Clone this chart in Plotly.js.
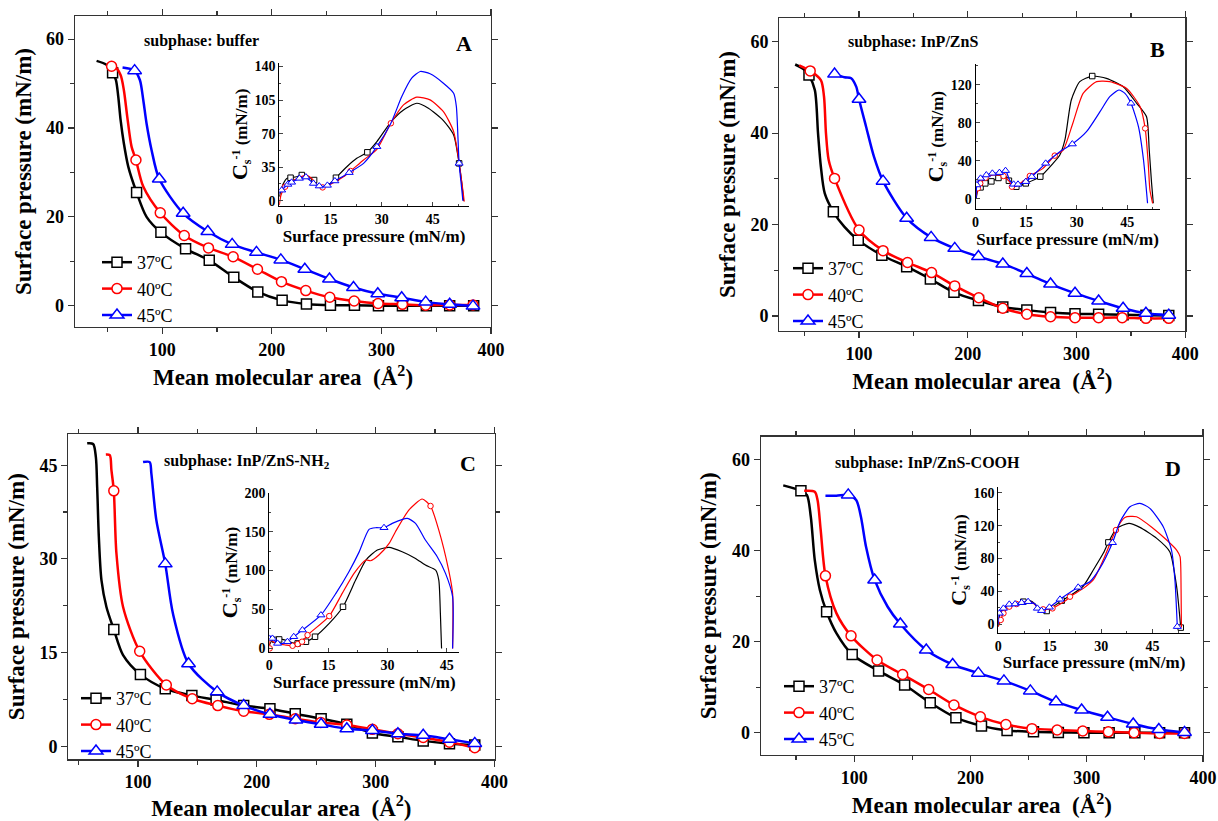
<!DOCTYPE html>
<html><head><meta charset="utf-8">
<script src="https://cdn.plot.ly/plotly-3.0.1.min.js"></script>
<style>html,body{margin:0;padding:0;background:#fff}#chart{width:1218px;height:821px}</style>
</head><body><div id="chart"></div>
<script>
// ===== Main isotherms: surface pressure (mN/m) vs mean molecular area (Å²) =====
// A: buffer
const A37_area=[40.1,49.2,57.7,59.9,62,65,69,85.7], A37_pi=[55.1,54.2,50.8,47,41.8,36.5,31.3,20];
const A37_mk_area=[54.7,76.6,98.8,121.3,142.9,165.3,187.2,209.4,231.6,253.5,275.4,297.3,319.2,341,362.3,384.2];
const A37_mk_pi=[52.4,25.5,16.5,12.8,10.2,6.4,3.1,1.2,0.4,0.1,0.1,0,0,0,0,0];
const A40_area=[56.8,62,65,68.1,72,82.7], A40_pi=[53.8,51.9,48.5,42.5,35.8,26.8];
const A40_mk_area=[53.8,76,98.2,120.1,142.2,164.7,186.9,208.8,231,252.9,275.1,297,319.2,340.4,362.3,383.6];
const A40_mk_pi=[53.9,32.8,20.9,15.8,13,11,8.2,5.4,3.4,1.9,1.05,0.5,0.3,0.1,0.15,0.15];
const A45_area=[63.8,79.6,82.7,85.7,90.3], A45_pi=[53.6,50.8,46.3,41,35];
const A45_mk_area=[74.8,97.3,119.1,141.6,163.8,186,208.2,230.1,252.6,274.5,296.7,318.5,340.4,362.3,383.6];
const A45_mk_pi=[52.9,28.5,20.8,16.7,13.8,12,10.3,8.2,6,4.1,2.7,1.8,0.8,0.3,-0.1];
// B: InP/ZnS
const B37_area=[41.3,50.4,59.4,62.3,64.9,68.5,86.6], B37_pi=[55,53.8,49.4,40,32.7,26.8,19.5];
const B37_mk_area=[54,76.4,99.3,121,143.8,165.6,187.3,209.8,232.2,254.3,276.1,298.6,320.3,342.8,363.8,384.8];
const B37_mk_pi=[52.7,22.8,16.6,13.3,10.8,8.1,5.2,3.4,2,1.3,0.8,0.5,0.4,0.3,0.2,0.15];
const B40_area=[45,64.9,67.8,69.6,72.1], B40_pi=[54.8,51.6,48,40,34.1];
const B40_mk_area=[55.1,77.5,100,122.1,144.6,166.7,188,210.1,232.2,254.3,276.1,298.6,320.3,342,363.8,384.8];
const B40_mk_pi=[53.6,30.1,18.8,14.3,11.7,9.5,6.6,4,1.7,0.4,-0.15,-0.35,-0.35,-0.35,-0.5,-0.5];
const B45_area=[86.6,92.8,97.5,106.5,113.8], B45_pi=[52.2,52,50.1,41.4,34.8];
const B45_mk_area=[77.5,100,122.1,143.8,166.3,188,209.8,232.2,254.3,276.1,298.6,320.3,342.8,363.8,384.8];
const B45_mk_pi=[52.9,47.4,29.5,21.4,17.2,14.8,13,11.4,9.3,7,5,3.3,1.7,0.6,0.2];
// C: InP/ZnS-NH2
const C37_area=[57.2,62.2,64.5,65.6,67,69.2,73.4,87.4], C37_pi=[48.5,48.4,46.3,41.5,33.5,26.6,22.3,14.6];
const C37_mk_area=[79.6,102,122.9,145.3,165.7,188.9,211,232.3,254.1,275.7,297.2,318.7,340,362.1,383.4];
const C37_mk_pi=[18.7,11.5,9.2,8.1,7.4,6.5,6,5.2,4.4,3.5,2.1,1.5,0.85,0.4,0.2];
const C40_area=[72.9,76.2,77.6,81.8,87.4], C40_pi=[46.7,46.6,44.2,30.9,22.3];
const C40_mk_area=[79.6,101.4,123.8,145.6,167.1,188.9,210.5,232.3,253.8,275.7,297.2,318.7,340,362.1,383.4];
const C40_mk_pi=[40.9,15.2,9.8,7.6,6.5,5.6,5.1,4.4,3.8,3.4,2.7,2,1.4,0.65,-0.25];
const C45_area=[104.2,109.8,111.2,115.4,129.4], C45_pi=[45.5,45.5,43.7,36.2,21.2];
const C45_mk_area=[122.9,142.5,166.6,188.9,211,232.9,254.1,275.7,297.2,318.7,340,362.1,383.4];
const C45_mk_pi=[29.2,13.2,8.7,6.5,5.1,4.2,3.5,2.8,2.5,2,1.75,1.1,0.45];
// D: InP/ZnS-COOH
const D37_area=[39,59.3,62.7,66.1,70.5,84.7], D37_pi=[54.4,52.3,47.5,38,31.4,21.9];
const D37_mk_area=[54.2,76.3,98.3,121,143.4,165.4,187.5,209.5,231.5,254.2,275.6,297.6,319.3,341.4,362.7,384.1];
const D37_mk_pi=[53.2,26.6,17.2,13.6,10.5,6.6,3.3,1.5,0.5,0.2,0.07,0,0,0,0,0];
const D40_area=[57,66.1,68.5,71.2,84.7], D40_pi=[53.2,53,51.2,44.6,26.3];
const D40_mk_area=[75.3,97.3,119.7,141.7,164.1,185.8,208.5,230.5,252.9,274.6,296.6,318.6,340.7,362.7,384.1];
const D40_mk_pi=[34.5,21.3,16,12.8,9.5,6.1,3.5,1.8,0.9,0.6,0.37,0.2,0,-0.15,-0.15];
const D45_area=[75.3,84.7,101.7,105.8,110.2,128.8], D45_pi=[52.1,52.1,51.2,47.5,40.9,27.7];
const D45_mk_area=[94.9,117.6,139.7,162,184.7,206.8,228.8,251.5,273.6,295.6,317.9,340,362,384.1];
const D45_mk_pi=[52.3,33.6,23.9,18.2,15,13.1,11.4,9.2,6.8,5,3.4,1.9,0.7,0.07];

// ===== Insets: compression modulus Cs^-1 (mN/m) vs surface pressure (mN/m) =====
const iA37_pi=[0,0.5,1.2,2.2,5.1,8.2,11.4,12.9,14.9,19.8,22.7,28.6,32.8,36.4,40.3,43.7,48.1,51.1,53.5,54];
const iA37_cs=[4.2,11,18,23.3,25,25,15.3,14.6,18,35.5,44.2,61.6,82.5,94.7,101.7,96.5,83.6,68.6,18,0];
const iA37_mk_pi=[3.3,6.6,10.2,16.6,25.8,52.7], iA37_mk_cs=[24,26.8,21.6,24,50.5,39];
const iA40_pi=[0,0.5,3.3,5.3,7.8,9.5,11,14.9,18.8,24.7,28.6,36.4,40.3,44.2,48.1,51.1,53.8,54.2];
const iA40_cs=[-4.5,6,19.9,23.3,26.8,23.3,16.4,17,25,42.5,53.6,100,108,105.2,93,72.1,11.1,-1];
const iA40_mk_pi=[1.7,12.7,20.9,32.7], iA40_mk_cs=[14.6,13.9,31,80.8];
const iA45_pi=[0,1.7,12.9,24.7,32.7,35.9,38.8,41.3,44.2,48.1,51.1,51.9,53.5,53.8];
const iA45_cs=[7.7,14.6,15,39,80.8,108.7,127.8,134.8,132.4,122.6,112.2,98.2,11.1,0];
const iA45_mk_pi=[0.7,2.5,3.6,5.9,7.8,10,11.7,14.1,16.3,20.5,28.6,52.7];
const iA45_mk_cs=[11,17,19.2,23.3,24.7,18,15.3,16,20.6,29.3,56.4,39];

const iB37_pi=[0.2,0.7,9.1,23,25,26.5,28.4,30.9,38.8,43.8,47.8,50.7,51.5,52.2,52.7];
const iB37_cs=[0,9.1,23.2,37.2,46,61.8,103.9,123.2,126.7,117.9,100.4,86.3,51.2,16.1,-4.9];
const iB37_mk_pi=[1.5,2.9,4.7,6.8,9.9,12.1,14.9,19.2,34.6], iB37_mk_cs=[11.9,16.1,18.2,21.8,18.9,12.6,16.1,23.2,129.1];
const iB40_pi=[0.2,5.2,8.1,10.1,12.1,20,26,28.9,31.9,35.9,39.8,44.8,48.8,51.2,51.7,52.5];
const iB40_cs=[2.1,24.9,24.6,17.9,13.3,31.9,51.2,80,110.9,123.2,123.2,116.1,96.8,37.2,9.1,-4.9];
const iB40_mk_pi=[0.7,1.4,3,8.3,10.8,16.1,23.5,50.3], iB40_mk_cs=[10.9,16.1,22.1,23.9,12.6,23.9,45.3,74];
const iB45_pi=[0.2,10.1,25,32.9,36.9,39.8,42.5,44.3,48.3,49.8,51];
const iB45_cs=[0,19.6,49.5,70.5,91.6,107.4,114.4,110.9,75.8,40.7,-4.9];
const iB45_mk_pi=[0.4,1.5,3.2,5,7.1,8.9,11.3,12.6,14.9,16.7,20.8,28.7,46.1];
const iB45_mk_cs=[14.4,21.4,24.9,26.7,27.4,29.5,15.1,15.1,17.9,23.2,37.2,57.5,100.4];

const iC37_pi=[0,0.8,3.4,5.9,15.2,21.9,24.5,27.4,30.4,33.7,37.1,39.6,42.2,43,43.4,43.7];
const iC37_cs=[4.3,10.7,11.6,7.3,32.1,87.8,113.5,126.3,129.8,124.2,115.6,107,100.6,87.8,45,0];
const iC37_mk_pi=[1.5,2.5,7.2,9.3,11.6,18.7], iC37_mk_cs=[11,11.5,6.4,8.6,15,53.5];
const iC40_pi=[0,0.2,1.7,4.2,18.5,21.5,24.5,25.7,27.8,30.4,32,35.4,38.8,43,45.5,46.5,46.5];
const iC40_cs=[-2.1,10.7,6.4,4.3,70.7,96.4,113.5,112.6,119.9,134.9,149.9,177.7,191.9,152,100.6,70.7,0];
const iC40_mk_pi=[0.1,5.9,7.2,8.3,9.7,15.2,40.9], iC40_mk_cs=[0,3.4,5.6,8.6,17.1,41.5,182.9];
const iC45_pi=[0,3.4,16.9,20.2,22.8,25.3,27,31.2,35,37.1,39.6,42.6,44.7,46.5,46.5];
const iC45_cs=[17.1,6.4,70.7,98.5,124,152.9,155,160.6,167,160.6,139.2,117.8,96.4,66.4,0];
const iC45_mk_pi=[0.8,2.1,4.6,6.2,8.4,13.1,29.1], iC45_mk_cs=[12.8,6.4,8.6,15,23.6,42.8,155];

const iD37_pi=[0,0.5,1.9,4.4,9.2,10.7,12.1,16,22,24.8,27.7,30.6,34.5,38.1,41.3,46.2,50,52];
const iD37_cs=[-2.8,13.4,19.4,24.7,28.8,24.7,17.4,21.5,37.7,46.6,66,86.3,116.6,122.7,117.9,104.5,88.3,45.8];
const iD37_mk_pi=[7.3,14.1,18.5,32.1,53.2], iD37_mk_cs=[27.5,16.2,28.8,99.6,-4];
const iD40_pi=[0,9,10.2,12,19.9,24.8,27.7,30.6,36.9,40.3,45.2,49.1,52,53,53.3,53.4];
const iD40_cs=[-2.8,27.5,25.5,19.4,29.6,43.7,53.9,78.2,130,130.8,116.6,102.5,90.3,82.2,41.7,-4];
const iD40_mk_pi=[0.7,1.5,3.2,5.3,13.1,15.8,20.9,34.3], iD40_mk_cs=[5.3,13.4,21.5,24.7,18.2,19.4,33.6,114.6];
const iD45_pi=[0,10.7,26.7,29.6,35.5,38.4,41.3,44.2,48.1,50.5,51.5];
const iD45_cs=[-0.8,24.7,51.8,68,124.7,143,147,141,118.7,90.3,53.9];
const iD45_mk_pi=[0.3,1.5,3.2,4.9,6.8,8.7,11.4,12.6,14.9,18,23.3,33.3,52.2];
const iD45_mk_cs=[13.4,19.4,24.3,24.7,26.3,27.5,19.4,16.6,20.7,30.4,45,99.2,-2.8];

const temps=['37ºC','40ºC','45ºC'];
const subphases=['subphase: buffer','subphase: InP/ZnS','subphase: InP/ZnS-NH<sub>2</sub>','subphase: InP/ZnS-COOH'];
const panelLetters=['A','B','C','D'];

// ===== layout helpers =====
const W=1218,H=821;
const SERIF='Liberation Serif';
const COLORS=['#000000','#ff0000','#0000ff'];
const SYMBOLS=['square','circle','triangle-up'];
const hx=(a,b)=>[a/W,b/W];
const vy=(t,b)=>[1-b/H,1-t/H];

const D={
  A:{main:[[A37_area,A37_pi,A37_mk_area,A37_mk_pi],[A40_area,A40_pi,A40_mk_area,A40_mk_pi],[A45_area,A45_pi,A45_mk_area,A45_mk_pi]],
     ins:[[iA37_pi,iA37_cs,iA37_mk_pi,iA37_mk_cs],[iA40_pi,iA40_cs,iA40_mk_pi,iA40_mk_cs],[iA45_pi,iA45_cs,iA45_mk_pi,iA45_mk_cs]]},
  B:{main:[[B37_area,B37_pi,B37_mk_area,B37_mk_pi],[B40_area,B40_pi,B40_mk_area,B40_mk_pi],[B45_area,B45_pi,B45_mk_area,B45_mk_pi]],
     ins:[[iB37_pi,iB37_cs,iB37_mk_pi,iB37_mk_cs],[iB40_pi,iB40_cs,iB40_mk_pi,iB40_mk_cs],[iB45_pi,iB45_cs,iB45_mk_pi,iB45_mk_cs]]},
  C:{main:[[C37_area,C37_pi,C37_mk_area,C37_mk_pi],[C40_area,C40_pi,C40_mk_area,C40_mk_pi],[C45_area,C45_pi,C45_mk_area,C45_mk_pi]],
     ins:[[iC37_pi,iC37_cs,iC37_mk_pi,iC37_mk_cs],[iC40_pi,iC40_cs,iC40_mk_pi,iC40_mk_cs],[iC45_pi,iC45_cs,iC45_mk_pi,iC45_mk_cs]]},
  D:{main:[[D37_area,D37_pi,D37_mk_area,D37_mk_pi],[D40_area,D40_pi,D40_mk_area,D40_mk_pi],[D45_area,D45_pi,D45_mk_area,D45_mk_pi]],
     ins:[[iD37_pi,iD37_cs,iD37_mk_pi,iD37_mk_cs],[iD40_pi,iD40_cs,iD40_mk_pi,iD40_mk_cs],[iD45_pi,iD45_cs,iD45_mk_pi,iD45_mk_cs]]}
};

// geometry (pixels) of each panel
const G=[
 {main:{x:[75,491],y:[16,327],xr:[20.4,400],yr:[-4.8,65.2],dy:20},ins:{x:[279.3,469],y:[62.7,206],xr:[0,55.6],yr:[-5.5,144],dy:35},
  leg:[97,244],sub:[141.7,40.7],let:[464,43.3]},
 {main:{x:[779.3,1185.3],y:[18.3,330.7],xr:[26.7,400],yr:[-3.2,65.1],dy:20},ins:{x:[975.5,1159.7],y:[64,209.3],xr:[0,54.6],yr:[-11.2,141.8],dy:40},
  leg:[788,250],sub:[846.4,41.7],let:[1157,50]},
 {main:{x:[68.3,494.5],y:[434,759.3],xr:[41.3,400],yr:[-2.1,50],dy:15},ins:{x:[269.3,459.3],y:[492.7,652.3],xr:[0,48.2],yr:[-5,200],dy:50},
  leg:[76,680],sub:[162.3,461.7],let:[467.5,463.3]},
 {main:{x:[760.8,1203],y:[436.7,755],xr:[19.7,400],yr:[-4.9,65.1],dy:20},ins:{x:[998.3,1190],y:[487.3,632.7],xr:[0,55.9],yr:[-10.2,166.6],dy:40},
  leg:[779,668],sub:[832.6,463.3],let:[1172.5,468.3]}
];

function merge(lx,ly,mx,my){
  const pts=lx.map((x,i)=>({x:x,y:ly[i]}));
  mx.forEach((x,i)=>{let k=pts.findIndex(p=>p.x>x); if(k<0)k=pts.length; pts.splice(k,0,{x:x,y:my[i]});});
  return {x:pts.map(p=>p.x),y:pts.map(p=>p.y)};
}

const traces=[]; const layout={
  width:W,height:H,margin:{l:0,r:0,t:0,b:0},paper_bgcolor:'#fff',plot_bgcolor:'rgba(0,0,0,0)',
  showlegend:true,annotations:[],font:{family:SERIF,color:'#000'}
};

const tickFontMain={family:SERIF,size:18,weight:'bold',color:'#000'};
const tickFontIns={family:SERIF,size:14,weight:'bold',color:'#000'};

['A','B','C','D'].forEach((P,pi)=>{
  const g=G[pi]; const n=pi+1; const ni=pi+5;
  const xa='x'+n, ya='y'+n, xi='x'+ni, yi='y'+ni;
  const legName= n===1?'legend':'legend'+n;
  layout['xaxis'+n]={domain:hx(...g.main.x),range:g.main.xr,anchor:ya,showline:true,mirror:'ticks',linecolor:'#333',linewidth:1.3,
    ticks:'outside',ticklen:6,tickwidth:1.2,tickcolor:'#333',tick0:0,dtick:100,minor:{dtick:50,ticks:'outside',ticklen:4,tickcolor:'#333'},
    showgrid:false,zeroline:false,tickfont:tickFontMain,
    title:{text:'Mean molecular area\u00a0\u00a0(Å<sup>2</sup>)',font:{family:SERIF,size:23,weight:'bold',color:'#000'},standoff:10}};
  layout['yaxis'+n]={domain:vy(...g.main.y),range:g.main.yr,anchor:xa,showline:true,mirror:'ticks',linecolor:'#333',linewidth:1.3,
    ticks:'outside',ticklen:6,tickwidth:1.2,tickcolor:'#333',tick0:0,dtick:g.main.dy,minor:{dtick:g.main.dy/2,ticks:'outside',ticklen:4,tickcolor:'#333'},
    showgrid:false,zeroline:false,tickfont:tickFontMain,
    title:{text:'Surface pressure (mN/m)',font:{family:SERIF,size:23,weight:'bold',color:'#000'},standoff:8}};
  layout['xaxis'+ni]={domain:hx(...g.ins.x),range:g.ins.xr,anchor:yi,showline:true,linecolor:'#000',linewidth:1,
    ticks:'inside',ticklen:4,tickwidth:1,tick0:0,dtick:15,minor:{dtick:7.5,ticks:'inside',ticklen:2},
    showgrid:false,zeroline:false,tickfont:tickFontIns,
    title:{text:'Surface pressure (mN/m)',font:{family:SERIF,size:17,weight:'bold',color:'#000'},standoff:2}};
  layout['yaxis'+ni]={domain:vy(...g.ins.y),range:g.ins.yr,anchor:xi,showline:true,linecolor:'#000',linewidth:1,
    ticks:'inside',ticklen:4,tickwidth:1,tick0:0,dtick:g.ins.dy,minor:{dtick:g.ins.dy/2,ticks:'inside',ticklen:2},
    showgrid:false,zeroline:false,tickfont:tickFontIns,
    title:{text:'<span style="font-size:22px">C</span><sub>s</sub><sup>-1</sup> (mN/m)',font:{family:SERIF,size:17,weight:'bold',color:'#000'},standoff:2}};
  layout[legName]={x:g.leg[0]/W,y:1-g.leg[1]/H,xanchor:'left',yanchor:'top',bgcolor:'rgba(0,0,0,0)',borderwidth:0,
    font:{family:SERIF,size:18,weight:'normal',color:'#000'},tracegroupgap:0};
  layout.annotations.push({xref:'paper',yref:'paper',x:g.sub[0]/W,y:1-g.sub[1]/H,xanchor:'left',yanchor:'middle',showarrow:false,
    text:subphases[pi],font:{family:SERIF,size:16,weight:'bold',color:'#000'}});
  layout.annotations.push({xref:'paper',yref:'paper',x:g.let[0]/W,y:1-g.let[1]/H,xanchor:'center',yanchor:'middle',showarrow:false,
    text:panelLetters[pi],font:{family:SERIF,size:22,weight:'bold',color:'#000'}});

  D[P].main.forEach((s,si)=>{
    const m=merge(s[0],s[1],s[2],s[3]);
    traces.push({x:m.x,y:m.y,xaxis:xa,yaxis:ya,mode:'lines',line:{color:COLORS[si],width:2.5,shape:'spline',smoothing:0.8},showlegend:false,hoverinfo:'skip'});
    traces.push({x:s[2],y:s[3],xaxis:xa,yaxis:ya,mode:'markers',marker:{symbol:SYMBOLS[si],size:si===2?12:10,color:'#fff',line:{color:COLORS[si],width:1.5}},showlegend:false});
  });
  D[P].main.forEach((s,si)=>{
    traces.push({x:[null],y:[null],xaxis:xa,yaxis:ya,mode:'lines+markers',name:temps[si],legend:legName,
      line:{color:COLORS[si],width:2.5},marker:{symbol:SYMBOLS[si],size:si===2?12:10,color:'#fff',line:{color:COLORS[si],width:1.5}}});
  });
  D[P].ins.forEach((s,si)=>{
    const m=merge(s[0],s[1],s[2],s[3]);
    traces.push({x:m.x,y:m.y,xaxis:xi,yaxis:yi,mode:'lines',line:{color:COLORS[si],width:1.2,shape:'spline',smoothing:0.6},showlegend:false,hoverinfo:'skip'});
    traces.push({x:s[2],y:s[3],xaxis:xi,yaxis:yi,mode:'markers',marker:{symbol:SYMBOLS[si],size:si===2?7:5.5,color:'#fff',line:{color:COLORS[si],width:1}},showlegend:false});
  });
});

Plotly.newPlot('chart',traces,layout,{staticPlot:true,displayModeBar:false});
</script></body></html>
